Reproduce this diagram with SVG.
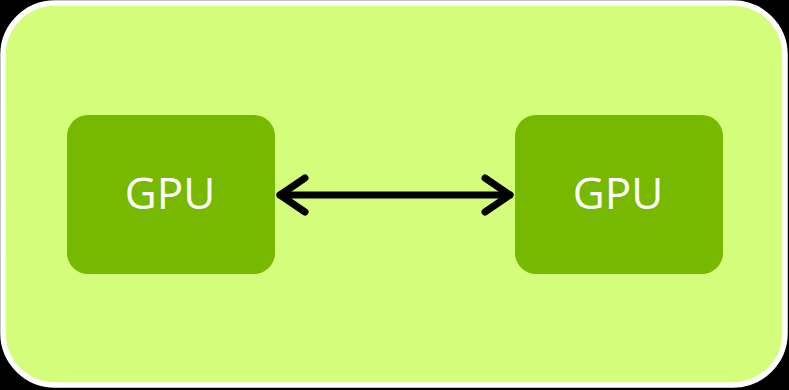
<svg xmlns="http://www.w3.org/2000/svg" width="789" height="390" viewBox="0 0 789 390">
  <style>
    .gpu rect { fill: #77b900; }
    .gpu text { fill: #ffffff; font-family: "Open Sans", "DejaVu Sans", sans-serif; font-size: 44px; text-anchor: middle; }
    .link { stroke: #000000; stroke-width: 7; fill: none; stroke-linecap: round; stroke-linejoin: round; }
  </style>
  <rect x="0" y="0" width="789" height="390" fill="#000000"/>
  <rect id="frame" x="3" y="3" width="782" height="382" rx="52" ry="52" fill="#d4fd7c" stroke="#ffffff" stroke-width="5.5"/>
  <g id="gpu-left" class="gpu">
    <rect x="67" y="115" width="208" height="159" rx="21" ry="21"/>
    <text x="170" y="209">GPU</text>
  </g>
  <g id="gpu-right" class="gpu">
    <rect x="515" y="115" width="208" height="159" rx="21" ry="21"/>
    <text x="618" y="209">GPU</text>
  </g>
  <g id="connectors">
    <line class="link" x1="280" y1="195" x2="510" y2="195"/>
    <polyline class="link" points="305,178 280,195 305,212"/>
    <polyline class="link" points="485,178 510,195 485,212"/>
  </g>
</svg>
